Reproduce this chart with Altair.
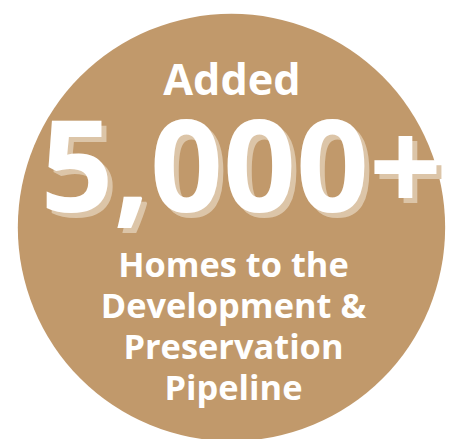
import altair as alt
import pandas as pd

# ---- content ----
headline = ["Added"]
big_number = ["5,000+"]
caption_lines = ["Homes to the", "Development &", "Preservation", "Pipeline"]

# ---- layout (page pixel space) ----
W, H = 453, 431          # chart area: page x 8..461, y 8..439
OX, OY = 8, 8
CX, CY, R = 235.5, 227.5, 217.5
TAN = "#C1996B"
SHADOW = "#DCC5A8"
FONT = "Open Sans"

xs = alt.Scale(domain=[OX, OX + W], range=[0, W], nice=False, zero=False)
ys = alt.Scale(domain=[OY + H, OY], nice=False, zero=False)
noax = None

circle_df = pd.DataFrame({"x": [CX], "y": [CY]})
head_df = pd.DataFrame({"t": headline, "x": [CX + 0.5], "y": [93]})
big_df = pd.DataFrame({"t": big_number, "x": [CX + 10], "y": [212]})
cap_df = pd.DataFrame({
    "t": caption_lines,
    "x": [CX + 2] * len(caption_lines),
    "y": [278 + i * 41.7 for i in range(len(caption_lines))],
})

def enc(ch):
    return ch.encode(
        x=alt.X("x:Q", scale=xs, axis=noax),
        y=alt.Y("y:Q", scale=ys, axis=noax),
    )

circle = enc(alt.Chart(circle_df).mark_point(
    shape="circle", filled=True, color=TAN, opacity=1,
    size=(2 * R) ** 2, strokeWidth=0,
))

head = enc(alt.Chart(head_df).mark_text(
    font=FONT, fontWeight="bold", fontSize=44, color="white",
    align="center", baseline="alphabetic",
)).encode(text="t:N")

big_shadow = enc(alt.Chart(big_df).mark_text(
    font=FONT, fontWeight="bold", fontSize=130, color=SHADOW,
    align="center", baseline="alphabetic", dx=5, dy=5,
)).encode(text="t:N")

big = enc(alt.Chart(big_df).mark_text(
    font=FONT, fontWeight="bold", fontSize=130, color="white",
    align="center", baseline="alphabetic",
)).encode(text="t:N")

cap = enc(alt.Chart(cap_df).mark_text(
    font=FONT, fontWeight="bold", fontSize=35, color="white",
    align="center", baseline="alphabetic",
)).encode(text="t:N")

chart = alt.layer(circle, head, big_shadow, big, cap).properties(
    width=W, height=H, padding=0, background="white",
    autosize=alt.AutoSizeParams(type="none"),
).configure_view(stroke=None, clip=False)

chart.save("out.html", embed_options={"renderer": "svg", "actions": False})
